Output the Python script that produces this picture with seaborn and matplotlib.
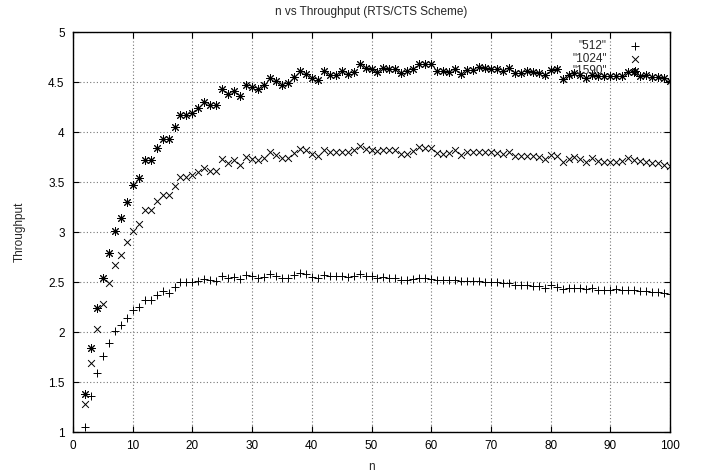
"""
n vs Throughput (RTS/CTS Scheme) - gnuplot style scatter with seaborn
"""

import numpy as np
import matplotlib
matplotlib.use('Agg')
import matplotlib.pyplot as plt
from matplotlib.ticker import FormatStrFormatter, MultipleLocator
import seaborn as sns

# Data (n = 2 .. 100)
n_values = list(range(2, 101))

thr_512 = [
    1.05, 1.36, 1.59, 1.76, 1.89, 2.01, 2.07, 2.14,                    # 2-9
    2.22, 2.25, 2.32, 2.32, 2.37, 2.41, 2.39, 2.45, 2.50, 2.50,        # 10-19
    2.50, 2.51, 2.53, 2.52, 2.51, 2.56, 2.54, 2.55, 2.53, 2.57,        # 20-29
    2.56, 2.54, 2.55, 2.58, 2.56, 2.54, 2.54, 2.57, 2.59, 2.58,        # 30-39
    2.55, 2.54, 2.57, 2.56, 2.56, 2.56, 2.55, 2.56, 2.58, 2.56,        # 40-49
    2.56, 2.54, 2.55, 2.54, 2.54, 2.52, 2.52, 2.53, 2.54, 2.54,        # 50-59
    2.53, 2.52, 2.52, 2.52, 2.52, 2.51, 2.51, 2.51, 2.51, 2.50,        # 60-69
    2.50, 2.50, 2.49, 2.49, 2.47, 2.47, 2.47, 2.46, 2.46, 2.44,        # 70-79
    2.47, 2.45, 2.43, 2.44, 2.44, 2.44, 2.43, 2.44, 2.42, 2.42,        # 80-89
    2.42, 2.43, 2.42, 2.42, 2.42, 2.41, 2.41, 2.40, 2.40, 2.39,        # 90-99
    2.38,                                                              # 100
]

thr_1024 = [
    1.28, 1.69, 2.03, 2.28, 2.49, 2.67, 2.77, 2.90,
    3.01, 3.08, 3.22, 3.22, 3.31, 3.37, 3.37, 3.46, 3.55, 3.55,
    3.57, 3.60, 3.64, 3.61, 3.61, 3.73, 3.69, 3.72, 3.67, 3.75,
    3.73, 3.72, 3.74, 3.80, 3.77, 3.74, 3.74, 3.79, 3.83, 3.82,
    3.78, 3.76, 3.82, 3.80, 3.80, 3.80, 3.80, 3.82, 3.86, 3.83,
    3.82, 3.81, 3.82, 3.82, 3.82, 3.78, 3.78, 3.81, 3.85, 3.84,
    3.84, 3.79, 3.78, 3.79, 3.82, 3.77, 3.80, 3.80, 3.80, 3.80,
    3.80, 3.79, 3.78, 3.80, 3.76, 3.76, 3.76, 3.76, 3.75, 3.73,
    3.77, 3.76, 3.70, 3.73, 3.75, 3.73, 3.70, 3.74, 3.71, 3.70,
    3.70, 3.70, 3.71, 3.74, 3.72, 3.71, 3.70, 3.69, 3.69, 3.67,
    3.66,
]

thr_1590 = [
    1.38, 1.84, 2.24, 2.54, 2.79, 3.01, 3.14, 3.30,
    3.47, 3.54, 3.72, 3.72, 3.84, 3.93, 3.93, 4.05, 4.17, 4.17,
    4.19, 4.24, 4.30, 4.27, 4.27, 4.43, 4.38, 4.41, 4.36, 4.47,
    4.45, 4.43, 4.47, 4.54, 4.51, 4.47, 4.49, 4.55, 4.61, 4.58,
    4.54, 4.52, 4.61, 4.57, 4.57, 4.61, 4.58, 4.60, 4.68, 4.64,
    4.63, 4.60, 4.64, 4.63, 4.63, 4.59, 4.61, 4.63, 4.68, 4.68,
    4.68, 4.61, 4.61, 4.60, 4.63, 4.58, 4.62, 4.62, 4.65, 4.64,
    4.63, 4.63, 4.61, 4.64, 4.59, 4.59, 4.61, 4.60, 4.59, 4.57,
    4.62, 4.63, 4.53, 4.57, 4.59, 4.57, 4.54, 4.57, 4.56, 4.56,
    4.56, 4.56, 4.56, 4.60, 4.60, 4.56, 4.57, 4.55, 4.55, 4.54,
    4.51,
]

series_labels = ['"512"', '"1024"', '"1590"']

# Style
sns.set_style("ticks")
plt.rcParams['font.family'] = ['Liberation Sans', 'DejaVu Sans']
plt.rcParams['font.size'] = 8.5

fig = plt.figure(figsize=(7.13, 4.75), dpi=100)
ax = fig.add_axes([0.1024, 0.0905, 0.8373, 0.8421])

# gnuplot point types: + , x , * (plus and cross combined)
markers = ['+', 'x', (8, 2, 0)]
sizes = [30, 24, 32]
for vals, label, mk, sz in zip([thr_512, thr_1024, thr_1590], series_labels, markers, sizes):
    sns.scatterplot(x=n_values, y=vals, marker=mk, s=sz, color='black',
                    linewidth=0.7, label=label, ax=ax, zorder=3)

ax.set_xlim(0, 100)
ax.set_ylim(1, 5)
ax.xaxis.set_major_locator(MultipleLocator(10))
ax.yaxis.set_major_locator(MultipleLocator(0.5))
ax.yaxis.set_major_formatter(FormatStrFormatter('%g'))

ax.grid(True, linestyle=(0, (1, 2)), color='#777777', linewidth=0.8)
ax.tick_params(direction='in', length=4, width=0.8, top=True, right=True,
               labelsize=8.5, pad=6, colors='black')
for sp in ax.spines.values():
    sp.set_linewidth(1.0)
    sp.set_color('black')

ax.set_title('n vs Throughput (RTS/CTS Scheme)', fontsize=8.5, pad=12)
ax.set_xlabel('n', fontsize=8.5, labelpad=6)
ax.set_ylabel('Throughput', fontsize=8.5, labelpad=16)

ax.legend(loc='upper right', frameon=False, markerfirst=False, fontsize=8.5,
          handletextpad=1.4, labelspacing=0.05, borderaxespad=0.3,
          bbox_to_anchor=(0.975, 1.0))

plt.savefig('out.png', dpi=100)
plt.close()
